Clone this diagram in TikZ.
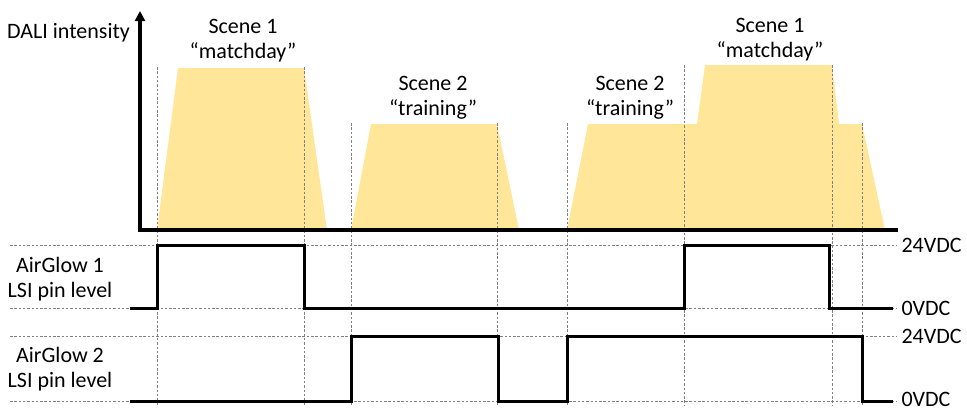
\documentclass[tikz,border=0pt]{standalone}
\usepackage{fontspec}
\setmainfont{Carlito}
\usetikzlibrary{positioning,arrows.meta}
\definecolor{scenefill}{HTML}{FFE699}

\begin{document}
\begin{tikzpicture}[x=1pt,y=-1pt,font=\fontsize{22}{25}\selectfont]
	  \useasboundingbox (0,0) rectangle (967,410);
	  % intensity of the scenes
	  \fill[scenefill] (157,230) -- (178,68) -- (304,68) -- (327,230) -- cycle;
	  \fill[scenefill] (351,230) -- (371,124) -- (497,124) -- (519,230) -- cycle;
	  \fill[scenefill] (567,230) -- (588,124) -- (697,124) -- (705,65) -- (832,65) -- (839,124) -- (862,124) -- (885,230) -- cycle;
	  % time marks and levels
	  \tikzset{grid/.style={gray, line width=0.7pt, dash pattern=on 2.5pt off 1.8pt}}
	  \draw[grid] (157,67) -- (157,405);
	  \draw[grid] (304,67) -- (304,405);
	  \draw[grid] (351,123) -- (351,405);
	  \draw[grid] (497,123) -- (497,405);
	  \draw[grid] (567,123) -- (567,405);
	  \draw[grid] (684,65) -- (684,405);
	  \draw[grid] (832,65) -- (832,405);
	  \draw[grid] (862,123) -- (862,405);
	  \coordinate (hi1) at (897,245);
	  \coordinate (lo1) at (897,308);
	  \coordinate (hi2) at (897,336);
	  \coordinate (lo2) at (897,401);
	  \draw[grid] (10,245) -- (hi1);
	  \draw[grid] (10,308) -- (lo1);
	  \draw[grid] (10,336) -- (hi2);
	  \draw[grid] (10,401) -- (lo2);
	  % axes
	  \coordinate (origin) at (140,230);
	  \coordinate (ytop) at (140,11);
	  \coordinate (xend) at (898,230);
	  \draw[line width=3.4pt, -{Triangle[length=10pt,width=10pt]}] (origin) -- (ytop);
	  \draw[line width=3.4pt] (138.3,230) -- (xend);
	  % pin levels
	  \draw[line width=3pt] (130,308) -- (157,308) -- (157,245) -- (304,245) -- (304,308) -- (684,308) -- (684,245) -- (829,245) -- (829,308) -- (893,308);
	  \draw[line width=3pt] (130,401) -- (351,401) -- (351,336) -- (498,336) -- (498,401) -- (567,401) -- (567,336) -- (862,336) -- (862,401) -- (893,401);
	  % labels
	  \node[anchor=base west, inner sep=0pt] (dali) at (7,38) {DALI intensity};
	  \node[align=center] (matchA) at (243,40.5) {Scene 1\\“matchday”};
	  \node[align=center] (trainA) at (433,97.5) {Scene 2\\“training”};
	  \node[align=center] (trainB) at (630,98) {Scene 2\\“training”};
	  \node[align=center] (matchB) at (770,39.5) {Scene 1\\“matchday”};
	  \node[align=center] (ag1) at (60,279.5) {AirGlow 1\\LSI pin level};
	  \node[align=center] (ag2) at (60,369.5) {AirGlow 2\\LSI pin level};
	  \node[right=1pt of hi1] (vhi1) {24VDC};
	  \node[right=1pt of lo1] (vlo1) {0VDC};
	  \node[right=1pt of hi2] (vhi2) {24VDC};
	  \node[right=1pt of lo2, yshift=2pt] (vlo2) {0VDC};
	\end{tikzpicture}
\end{document}
